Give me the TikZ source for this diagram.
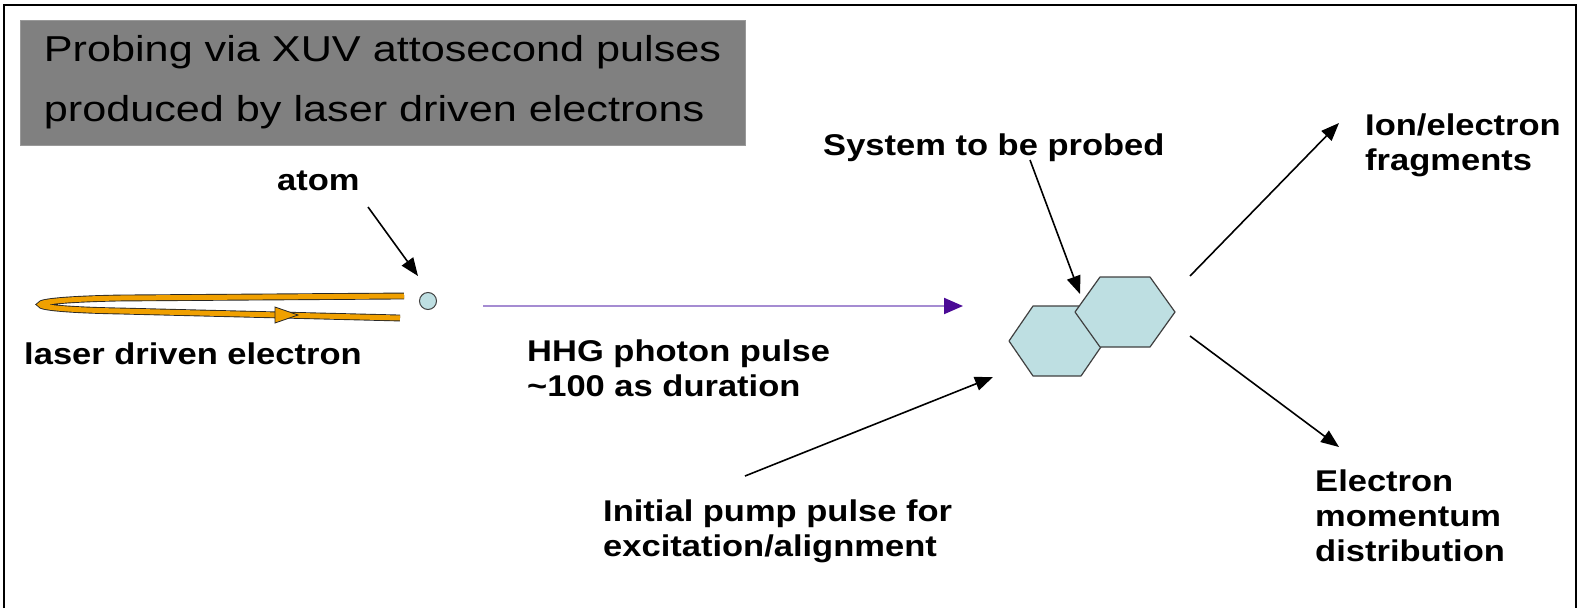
\documentclass[tikz,border=0pt]{standalone}
\usepackage{fontspec}
\setmainfont{Liberation Sans}
\usetikzlibrary{arrows.meta,positioning}
\definecolor{TitleGray}{HTML}{808080}
\definecolor{HexCyan}{HTML}{BEDFE2}
\definecolor{LaserOrange}{HTML}{F0A000}
\definecolor{PulseViolet}{HTML}{A58CD2}
\definecolor{PulseHead}{HTML}{4B0A96}

\begin{document}
\begin{tikzpicture}[x=1pt,y=-1pt,>={Triangle[length=18pt,width=14pt]},
  lbl/.style={font=\fontsize{30}{35}\selectfont\bfseries,align=left,inner sep=0pt,xscale=1.15},
  titlebox/.style={fill=TitleGray,draw=gray!80,line width=0.8pt,xscale=1.2,
    minimum width=604pt,minimum height=125pt,inner sep=0pt,align=left,
    font=\fontsize{36}{60}\selectfont},
  hexcell/.style={fill=HexCyan,draw=black!75,line width=1.2pt,line join=round},
  atomdot/.style={circle,fill=HexCyan,draw=black!75,line width=1pt,minimum size=17pt,inner sep=0pt},
  pointer/.style={->,line width=1.6pt},
  laserline/.style={draw=black!85,line width=0.9pt,double=LaserOrange,double distance=5pt}]
  \useasboundingbox (0,0) rectangle (1579,608);
  \draw[line width=1.5pt] (4,608) -- (4,5) -- (1576,5) -- (1576,608);

  % title panel
  \node[titlebox] (title) at (382.5,82.5)
    {Probing via XUV attosecond pulses\\produced by laser driven electrons};

  % laser driven electron trajectory
  \draw[laserline] (404,296) -- (120,298) .. controls (14,300) and (14,309) .. (120,311) -- (400,318);
  \filldraw[fill=LaserOrange,draw=black!85,line width=0.8pt] (275,307) -- (298,315) -- (275,323) -- cycle;
  \node[atomdot] (atom) at (428,301) {};

  % system to be probed
  \draw[hexcell] (1009,341) -- (1033,306) -- (1081,306) -- (1105,341) -- (1081,376) -- (1033,376) -- cycle;
  \draw[hexcell] (1075,312) -- (1100,277) -- (1150,277) -- (1175,312) -- (1150,347) -- (1100,347) -- cycle;
  \coordinate (molecule) at (1092,326);

  % labels
  \node[lbl,anchor=west] (atomlbl) at (277,181) {atom};
  \node[lbl,anchor=west] (electronlbl) at (24,354) {laser driven electron};
  \node[lbl,anchor=north west] (hhglbl) at (527,340) {HHG photon pulse\\\textasciitilde100 as duration};
  \node[lbl,anchor=west] (systemlbl) at (823,148) {System to be probed};
  \node[lbl,anchor=north west] (pumplbl) at (603,500) {Initial pump pulse for\\excitation/alignment};
  \node[lbl,anchor=north west] (ionlbl) at (1365,114) {Ion/electron\\fragments};
  \node[lbl,anchor=north west] (momlbl) at (1315,470) {Electron\\momentum\\distribution};

  % arrow ends
  \coordinate (atomtail) at (368,207);
  \coordinate (atomtip) at (418,276);
  \coordinate (pulsetail) at (483,306);
  \coordinate (pulsetip) at (963,306);
  \coordinate (systail) at (1030,160);
  \coordinate (systip) at (1080,294);
  \coordinate (iontail) at (1190,276);
  \coordinate (iontip) at (1339,123);
  \coordinate (momtail) at (1190,336);
  \coordinate (momtip) at (1339,447);
  \coordinate (pumptail) at (745,476);
  \coordinate (pumptip) at (993,377);

  \draw[pointer] (atomtail) -- (atomtip);
  \draw[line width=2pt,PulseViolet,-{Triangle[length=19pt,width=16pt,color=PulseHead]}] (pulsetail) -- (pulsetip);
  \draw[pointer] (systail) -- (systip);
  \draw[pointer] (iontail) -- (iontip);
  \draw[pointer] (momtail) -- (momtip);
  \draw[pointer] (pumptail) -- (pumptip);
\end{tikzpicture}
\end{document}
